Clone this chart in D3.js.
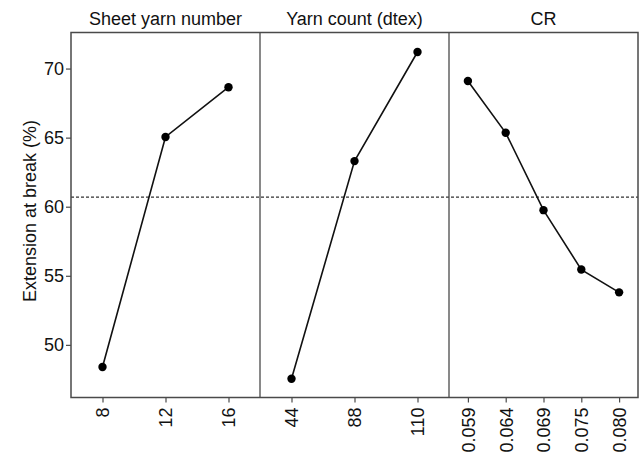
<!DOCTYPE html>
<html>
<head>
<meta charset="utf-8">
<script src="https://cdn.jsdelivr.net/npm/d3@7"></script>
<style>
  html, body { margin: 0; padding: 0; background: #fff; }
  svg { display: block; }
  text { font-family: "Liberation Sans", Arial, Helvetica, sans-serif; fill: #111; }
</style>
</head>
<body>
<svg id="chart" width="639" height="454"></svg>
<script>
// ---- data ----
const panelTitles = ["Sheet yarn number", "Yarn count (dtex)", "CR"];
const sheetLevels = ["8", "12", "16"];
const sheetValues = [48.4, 65.05, 68.65];
const yarnLevels = ["44", "88", "110"];
const yarnValues = [47.55, 63.3, 71.2];
const crLevels = ["0.059", "0.064", "0.069", "0.075", "0.080"];
const crValues = [69.1, 65.35, 59.75, 55.45, 53.8];
const grandMean = 60.7;
const yTicks = [50, 55, 60, 65, 70];
const yLabel = "Extension at break (%)";

(function () {
const panels = [
  { title: panelTitles[0], levels: sheetLevels, values: sheetValues },
  { title: panelTitles[1], levels: yarnLevels, values: yarnValues },
  { title: panelTitles[2], levels: crLevels, values: crValues }
];

// ---- layout ----
const svg = d3.select("#chart");
const pLeft = 71, pRight = 638, pTop = 32.5, pBottom = 397.5;
const panelW = (pRight - pLeft) / panels.length;
const frameColor = "#4a4a4a";

const y = d3.scaleLinear().domain([46.19, 72.61]).range([pBottom, pTop]);

// y axis
const yAxis = svg.append("g").attr("transform", `translate(${pLeft},0)`)
  .call(d3.axisLeft(y).tickValues(yTicks).tickSize(5).tickPadding(2));
yAxis.select(".domain").remove();
yAxis.selectAll(".tick line").attr("stroke", frameColor).attr("stroke-width", 1.2);
yAxis.selectAll(".tick text").attr("font-size", 18).attr("fill", "#111")
  .attr("font-family", "'Liberation Sans', Arial, sans-serif");

// y label
svg.append("text")
  .attr("transform", `translate(36,${(pTop + pBottom) / 2 - 4}) rotate(-90)`)
  .attr("text-anchor", "middle")
  .attr("font-size", 18)
  .text(yLabel);

// dashed grand mean reference line
svg.append("line")
  .attr("x1", pLeft).attr("x2", pRight)
  .attr("y1", y(grandMean)).attr("y2", y(grandMean))
  .attr("stroke", "#333").attr("stroke-width", 1.3)
  .attr("stroke-dasharray", "3,2");

panels.forEach((p, i) => {
  const x0 = pLeft + i * panelW;
  const x = d3.scalePoint().domain(p.levels).range([x0, x0 + panelW]).padding(0.5);

  // title
  svg.append("text")
    .attr("x", x0 + panelW / 2).attr("y", 25)
    .attr("text-anchor", "middle")
    .attr("font-size", 18)
    .text(p.title);

  // x axis
  const xa = svg.append("g").attr("transform", `translate(0,${pBottom})`)
    .call(d3.axisBottom(x).tickSize(5).tickSizeOuter(0));
  xa.select(".domain").remove();
  xa.selectAll(".tick line").attr("stroke", frameColor).attr("stroke-width", 1.2);
  xa.selectAll(".tick text")
    .attr("font-size", 18).attr("fill", "#111")
    .attr("font-family", "'Liberation Sans', Arial, sans-serif")
    .attr("transform", "rotate(-90)")
    .attr("text-anchor", "end")
    .attr("x", -10).attr("y", 0).attr("dy", "0.35em");

  // line + points
  const pts = p.levels.map((l, k) => [x(l), y(p.values[k])]);
  svg.append("path")
    .attr("d", d3.line()(pts))
    .attr("fill", "none").attr("stroke", "#111").attr("stroke-width", 1.6);
  svg.append("g").selectAll("circle").data(pts).join("circle")
    .attr("cx", d => d[0]).attr("cy", d => d[1]).attr("r", 4.2)
    .attr("fill", "#000");
});

// frame: outer box and panel dividers
svg.append("rect")
  .attr("x", pLeft).attr("y", pTop)
  .attr("width", pRight - pLeft).attr("height", pBottom - pTop)
  .attr("fill", "none").attr("stroke", frameColor).attr("stroke-width", 1.5);
for (let i = 1; i < panels.length; i++) {
  svg.append("line")
    .attr("x1", pLeft + i * panelW).attr("x2", pLeft + i * panelW)
    .attr("y1", pTop).attr("y2", pBottom)
    .attr("stroke", frameColor).attr("stroke-width", 1.3);
}
})();
</script>
</body>
</html>
